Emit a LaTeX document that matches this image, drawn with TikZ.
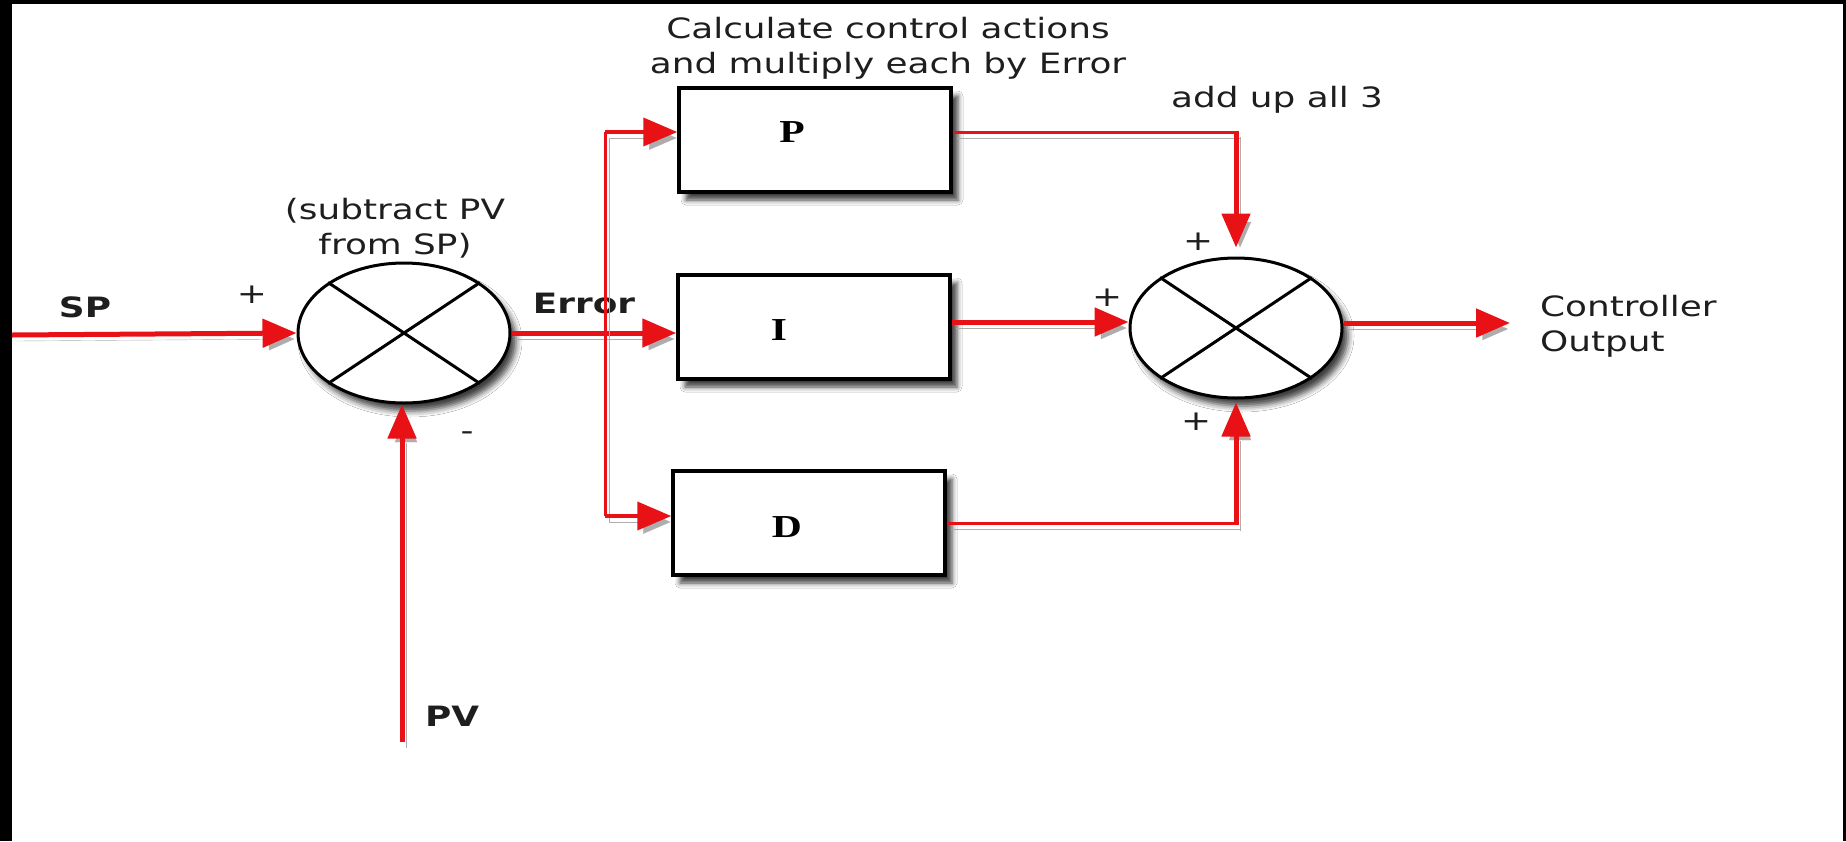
\documentclass[tikz,border=0pt]{standalone}
\usepackage{fontspec}
\setmainfont{DejaVu Sans}
\newfontfamily\vfont[FakeStretch=1.28]{DejaVu Sans}
\newfontfamily\tfont[FakeStretch=1.3]{Liberation Serif}
\usetikzlibrary{arrows.meta,shapes.geometric,shadows.blur,calc}
\definecolor{ared}{RGB}{232,18,22}
\definecolor{txtc}{RGB}{30,30,30}
\tikzset{
  redthick/.style={draw=ared,line width=5pt},
  redmid/.style={draw=ared,line width=4pt},
  redthin/.style={draw=ared,line width=3pt},
  arr/.style={-{Triangle[length=34pt,width=28pt]}},
  lshadow/.style={preaction={draw=black!32,transform canvas={shift={(4pt,-6pt)}}}},
  blockbox/.style={draw,line width=3.5pt,minimum width=272pt,minimum height=104pt,fill=white,inner sep=0pt,
    blur shadow={shadow xshift=7pt,shadow yshift=-8pt,shadow blur radius=5pt,shadow opacity=75}},
  sumnode/.style={ellipse,draw,line width=3pt,minimum width=212pt,minimum height=140pt,fill=white,inner sep=0pt,
    blur shadow={shadow xshift=6pt,shadow yshift=-8pt,shadow blur radius=6pt,shadow opacity=75}},
  txt/.style={font=\vfont\fontsize{28}{35}\selectfont,text=txtc,align=center,inner sep=0pt},
  ltxt/.style={font=\vfont\fontsize{28}{35}\selectfont,text=txtc,align=left,inner sep=0pt},
  btxt/.style={font=\vfont\bfseries\fontsize{28}{35}\selectfont,text=txtc,inner sep=0pt},
  ltr/.style={font=\tfont\bfseries\fontsize{32}{36}\selectfont,text=black,inner sep=0pt},
}
\begin{document}
\begin{tikzpicture}[x=1pt,y=-1pt]
\useasboundingbox (0,0) rectangle (1846,841);
\fill[white] (0,0) rectangle (1846,841);

% summing junctions
\node[sumnode] (c1) at (404,333) {};
\node[sumnode] (c2) at (1236,328) {};
\draw[line width=3pt] (c1.north west) -- (c1.south east) (c1.north east) -- (c1.south west);
\draw[line width=3pt] (c2.north west) -- (c2.south east) (c2.north east) -- (c2.south west);

% blocks
\node[blockbox] (P) at (815,140) {};
\node[blockbox] (I) at (814,327) {};
\node[blockbox] (D) at (809,523) {};
\node[ltr] (Pl) at (792,132) {P};
\node[ltr] (Il) at (779,330) {I};
\node[ltr] (Dl) at (787,527) {D};

% texts
\node[txt] (calc) at (888,48) {Calculate control actions\\and multiply each by Error};
\node[txt] (sub) at (395,228) {(subtract PV\\from SP)};
\node[txt] (addup) at (1277,100) {add up all 3};
\node[btxt] (SPl) at (85,307) {SP};
\node[txt] (plA) at (252,295) {+};
\node[txt] (minus) at (467,436) {-};
\node[btxt] (PVl) at (452,716) {PV};
\node[btxt] (Err) at (584,303) {Error};
\node[txt] (plT) at (1198,242) {+};
\node[txt] (plL) at (1107,298) {+};
\node[txt] (plB) at (1196,422) {+};
\node[ltxt,anchor=west] (outl) at (1540,326) {Controller\\Output};

% connectors
\coordinate (spin) at (12,335);
\draw[redthick,arr,lshadow] (spin) -- (c1.west);

\coordinate (pvin) at (402,742);
\draw[redthick,arr,lshadow] (pvin) -- (pvin |- c1.south);

\draw[redthick,arr,lshadow] (c1.east) -- (c1.east -| I.west);

\coordinate (dtop) at (605,132);
\coordinate (dbot) at (605,516);
\draw[redthin,lshadow] (dtop) -- (dbot);
\draw[redmid,arr,lshadow] (dtop) -- (dtop -| P.west);
\draw[redmid,arr,lshadow] (dbot) -- (dbot -| D.west);

\coordinate (pc) at (c2.north |- dtop);
\draw[redthin,lshadow] (P.east |- dtop) -- (pc);
\draw[redthick,arr,lshadow,shorten >=9pt] ([yshift=1.5pt]pc) -- (c2.north);

\coordinate (iout) at ([yshift=5pt]I.east);
\draw[redthick,arr,lshadow] (iout) -- (iout -| c2.west);

\coordinate (dc) at (c2.south |- D.east);
\draw[redthin,lshadow] (D.east) -- (dc);
\draw[redthick,arr,lshadow,shorten >=3pt] ([yshift=-1.5pt]dc) -- (c2.south);

\coordinate (outend) at (1510,323);
\draw[redthick,arr,lshadow] ([yshift=5pt]c2.east) -- (outend);

% black frame strips
\fill[black] (0,0) rectangle (12,841);
\fill[black] (0,0) rectangle (1846,4);
\fill[black] (1843,0) rectangle (1846,841);
\end{tikzpicture}
\end{document}
